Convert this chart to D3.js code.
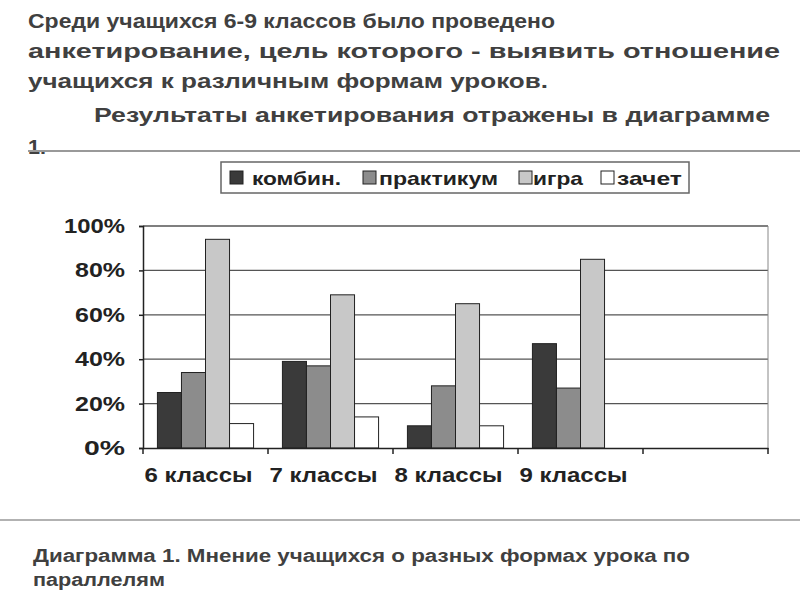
<!DOCTYPE html>
<html><head><meta charset="utf-8">
<script src="https://d3js.org/d3.v7.min.js"></script>
<style>body{margin:0;background:#fff}</style></head>
<body><svg id="c" width="800" height="600"></svg>
<script>
const categories = ["6 классы","7 классы","8 классы","9 классы",""];
const series = ["комбин.","практикум","игра","зачет"];
const kombin = [25,39,10,47,null];
const praktikum = [34,37,28,27,null];
const igra = [94,69,65,85,null];
const zachet = [11,14,10,null,null];
const yTicks = [0,20,40,60,80,100];
const colors = ["#3a3a3a","#8c8c8c","#c8c8c8","#ffffff"];
const data = [kombin,praktikum,igra,zachet];

const svg = d3.select("#c");
const F = "'Liberation Sans', Arial, sans-serif";
const titleLines = [
 [28,28,527,"Среди учащихся 6-9 классов было проведено"],
 [28,58,752,"анкетирование, цель которого - выявить отношение"],
 [28,88,520,"учащихся к различным формам уроков."],
 [94,122,676,"Результаты анкетирования отражены в диаграмме"],
 [28,154,18,"1."]];
titleLines.forEach(([x,y,w,t])=>svg.append("text").attr("x",x).attr("y",y).text(t)
  .attr("textLength",w).attr("lengthAdjust","spacingAndGlyphs")
  .attr("font-family",F).attr("font-weight","bold").attr("font-size",21).attr("fill","#404040"));
svg.append("line").attr("x1",28).attr("x2",800).attr("y1",151).attr("y2",151).attr("stroke","#999").attr("stroke-width",2);

const m={l:143,r:768,t:226,b:448};
const x = d3.scaleBand().domain(categories.map((c,i)=>i)).range([m.l,m.r]);
const xi = d3.scaleBand().domain(series).range([0,x.bandwidth()]).paddingOuter(0.6).paddingInner(0);
const y = d3.scaleLinear().domain([0,100]).range([m.b,m.t]);
const g = svg.append("g");
g.selectAll(".grid").data(yTicks.slice(1)).join("line").attr("x1",m.l).attr("x2",m.r)
 .attr("y1",d=>y(d)).attr("y2",d=>y(d)).attr("stroke","#555").attr("stroke-width",1.3);
g.append("line").attr("x1",m.r).attr("x2",m.r).attr("y1",m.t).attr("y2",m.b).attr("stroke","#888");
series.forEach((s,si)=>{
  g.selectAll(".b"+si).data(data[si].map((v,i)=>({v,i})).filter(d=>d.v!=null)).join("rect")
   .attr("x",d=>x(d.i)+xi(s)).attr("width",xi.bandwidth())
   .attr("y",d=>y(d.v)).attr("height",d=>y(0)-y(d.v))
   .attr("fill",colors[si]).attr("stroke","#222").attr("stroke-width",1);
});
const ya = svg.append("g").attr("transform",`translate(${m.l},0)`)
  .call(d3.axisLeft(y).tickValues(yTicks).tickFormat(d=>d+"%").tickSize(4).tickPadding(14));
ya.selectAll("text").attr("font-family",F).attr("font-weight","bold").attr("font-size",20).attr("fill","#222")
  .attr("textLength",d=>d==100?61:(d==0?41:50)).attr("lengthAdjust","spacingAndGlyphs");
ya.selectAll("path,line").attr("stroke","#222").attr("stroke-width",1.5);
const xa = svg.append("g").attr("transform",`translate(0,${m.b})`)
  .call(d3.axisBottom(x).tickFormat(i=>categories[i]).tickSize(0).tickPadding(22));
xa.selectAll("text").attr("font-family",F).attr("font-weight","bold").attr("font-size",20).attr("fill","#222")
  .attr("dy","0.6em").attr("dx",-7).attr("textLength",i=>categories[i]?108:0).attr("lengthAdjust","spacingAndGlyphs");
xa.select("path").attr("stroke","#222").attr("stroke-width",1.5);
xa.selectAll(".sep").data(d3.range(categories.length+1)).join("line")
  .attr("x1",i=>m.l+i*x.step()).attr("x2",i=>m.l+i*x.step()).attr("y1",0).attr("y2",6)
  .attr("stroke","#222").attr("stroke-width",1.5);

const lg = svg.append("g");
lg.append("rect").attr("x",221).attr("y",162).attr("width",468).attr("height",31).attr("fill","#fff").attr("stroke","#666").attr("stroke-width",1.5);
const lx=[230,363,519,601], tx=[252,379,533,617], tw=[89,119,50,65];
series.forEach((s,i)=>{
  lg.append("rect").attr("x",lx[i]).attr("y",171).attr("width",13).attr("height",13).attr("fill",colors[i]).attr("stroke","#222");
  lg.append("text").attr("x",tx[i]).attr("y",185).text(s).attr("textLength",tw[i]).attr("lengthAdjust","spacingAndGlyphs")
   .attr("font-family",F).attr("font-weight","bold").attr("font-size",19).attr("fill","#222");
});

svg.append("line").attr("x1",0).attr("x2",800).attr("y1",520).attr("y2",520).attr("stroke","#999").attr("stroke-width",1.5);
[[33,562,657,"Диаграмма 1. Мнение учащихся о разных формах урока по"],[33,586,132,"параллелям"]].forEach(([x0,y0,w,t])=>
 svg.append("text").attr("x",x0).attr("y",y0).text(t).attr("textLength",w).attr("lengthAdjust","spacingAndGlyphs")
  .attr("font-family",F).attr("font-weight","bold").attr("font-size",18).attr("fill","#404040"));
</script></body></html>
